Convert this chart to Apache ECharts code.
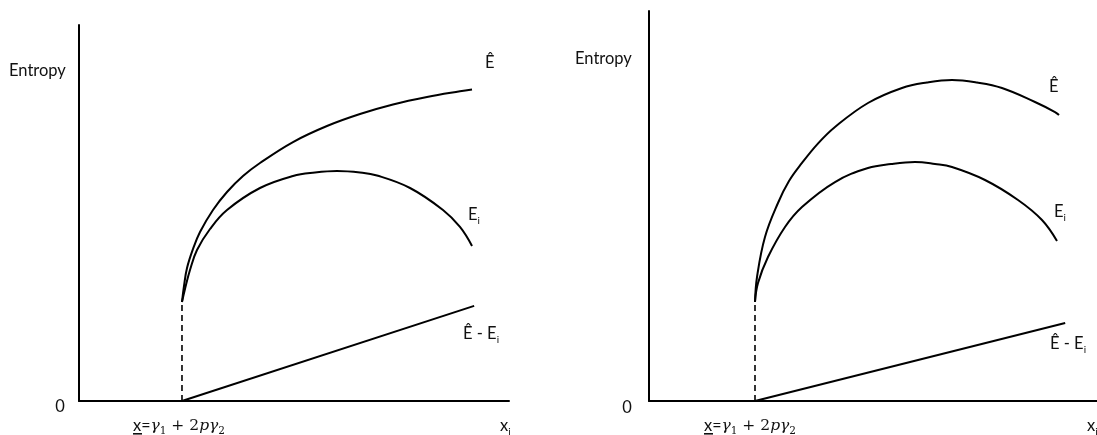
<!DOCTYPE html>
<html lang="en">
<head>
    <meta charset="UTF-8">
    <title>Entropy</title>
    <script src="https://cdn.jsdelivr.net/npm/echarts@6/dist/echarts.min.js"></script>
    <style>
        *{
            padding: 0;
            margin: 0;
        }
        html ,body{
            width: 100%;
            height: 100%;
            background: #fff;
        }
        .echarts{
            width: 1097px;
            height: 435px;
        }
    </style>
</head>
<body>
<div class="echarts"></div>
<script>
    // axis units: x and y both 0..100 along each panel's axes
    let leftEhat=[[23.95,26.33],[24.42,30.59],[25.12,35.37],[26.51,40.43],[28.14,44.95],[31.16,50.80],[34.42,55.59],[38.14,59.84],[42.09,63.30],[49.77,68.88],[57.67,73.14],[65.35,76.33],[73.02,78.86],[80.93,80.85],[88.60,82.37],[91.40,82.85]];
    let leftEi=[[23.95,26.33],[24.65,29.79],[25.81,34.84],[27.44,40.16],[30.47,45.74],[34.42,50.80],[42.09,56.65],[49.77,59.84],[54.88,60.77],[60.00,61.17],[65.35,60.77],[69.30,59.97],[76.98,56.65],[84.65,50.80],[88.60,46.28],[91.40,41.22]];
    let leftDiff=[[23.95,0],[91.9,25.3]];
    let leftStart=[[23.95,0],[23.95,26.33]];

    let rightEhat=[[23.66,25.38],[24.11,31.79],[25.89,42.05],[28.79,50.77],[31.25,56.4],[34.15,61.03],[37.7,66.0],[41.52,70.26],[48.88,76.41],[56.47,80.26],[62.05,81.67],[67.63,82.31],[73.21,81.67],[78.79,80.26],[86.16,76.67],[90.63,74.10],[91.52,73.33]];
    let rightEi=[[23.66,25.38],[24.33,30.26],[26.56,36.92],[30.36,44.62],[34.15,49.74],[41.52,56.15],[48.88,59.74],[54.02,60.77],[59.38,61.28],[63.84,60.77],[67.63,60.00],[75.00,56.67],[82.37,51.54],[87.72,46.41],[91.07,41.03]];
    let rightDiff=[[23.66,0],[92.9,20.0]];
    let rightStart=[[23.66,0],[23.66,25.38]];

    let yName='Entropy';
    let zeroLabel='0';
    let xName='{b|x}{s|i}';
    let threshold='{u|x}{e|=}{m|γ}{sub|1}{n| + 2}{m|pγ}{sub|2}';
    let curveNames=['{b|Ê}','{b|E}{s|i}','{b|Ê - E}{s|i}'];

    window.onload=function () {
        let main=document.querySelector('.echarts');
        let myCharts=echarts.init(main);

        let sans='Lato, "Open Sans", sans-serif';
        let serif='"DejaVu Serif", serif';
        let rich={
            b:{fontSize:16.5,fontFamily:sans,color:'#111',lineHeight:22,verticalAlign:'middle'},
            s:{fontSize:10,fontFamily:sans,color:'#111',lineHeight:10,verticalAlign:'bottom'},
            u:{fontSize:16.5,fontFamily:sans,color:'#111',lineHeight:22,verticalAlign:'middle'},
            e:{fontSize:16,fontFamily:sans,color:'#111',lineHeight:22,verticalAlign:'middle'},
            m:{fontSize:15.5,fontFamily:serif,fontStyle:'italic',color:'#111',lineHeight:22,verticalAlign:'middle'},
            n:{fontSize:15.5,fontFamily:serif,color:'#111',lineHeight:22,verticalAlign:'middle'},
            sub:{fontSize:10.5,fontFamily:serif,color:'#111',lineHeight:10,verticalAlign:'bottom'}
        };

        function axis(idx){
            return {
                type:'value',
                gridIndex:idx,
                min:0,
                max:100,
                axisLine:{show:true,lineStyle:{color:'#000',width:2}},
                axisTick:{show:false},
                axisLabel:{show:false},
                splitLine:{show:false}
            };
        }
        function curve(data,idx){
            return {
                type:'line',
                data:data,
                xAxisIndex:idx,
                yAxisIndex:idx,
                smooth:0.4,
                symbol:'none',
                silent:true,
                lineStyle:{color:'#000',width:2}
            };
        }
        function dashed(data,idx){
            return {
                type:'line',
                data:data,
                xAxisIndex:idx,
                yAxisIndex:idx,
                symbol:'none',
                silent:true,
                lineStyle:{color:'#000',width:1.6,type:[6,4]}
            };
        }
        function txt(x,y,text,align){
            return {
                type:'text',
                x:x,
                y:y,
                silent:true,
                style:{text:text,rich:rich,fontSize:16,fontFamily:sans,fill:'#111',align:align||'left',verticalAlign:'middle'}
            };
        }

        let option={
            backgroundColor:'#fff',
            animation:false,
            grid:[
                {left:79,top:25,width:430,height:376},
                {left:649,top:11,width:448,height:390}
            ],
            xAxis:[axis(0),axis(1)],
            yAxis:[axis(0),axis(1)],
            series:[
                curve(leftEhat,0),
                curve(leftEi,0),
                curve(leftDiff,0),
                dashed(leftStart,0),
                curve(rightEhat,1),
                curve(rightEi,1),
                curve(rightDiff,1),
                dashed(rightStart,1)
            ],
            graphic:[
                txt(9,71,'{b|'+yName+'}'),
                txt(60,407,'{b|'+zeroLabel+'}','center'),
                txt(133,426,threshold),
                {type:'rect',silent:true,shape:{x:133,y:433,width:9,height:1.6},style:{fill:'#111'}},
                txt(500,426,xName),
                txt(485,63,curveNames[0]),
                txt(468,215,curveNames[1]),
                txt(463,334,curveNames[2]),

                txt(575,59,'{b|'+yName+'}'),
                txt(627,408,'{b|'+zeroLabel+'}','center'),
                txt(704,426,threshold),
                {type:'rect',silent:true,shape:{x:704,y:433,width:9,height:1.6},style:{fill:'#111'}},
                txt(1087,426,xName),
                txt(1049,87,curveNames[0]),
                txt(1054,212,curveNames[1]),
                txt(1050,344,curveNames[2])
            ]
        };
        myCharts.setOption(option);
    }
</script>
</body>
</html>
